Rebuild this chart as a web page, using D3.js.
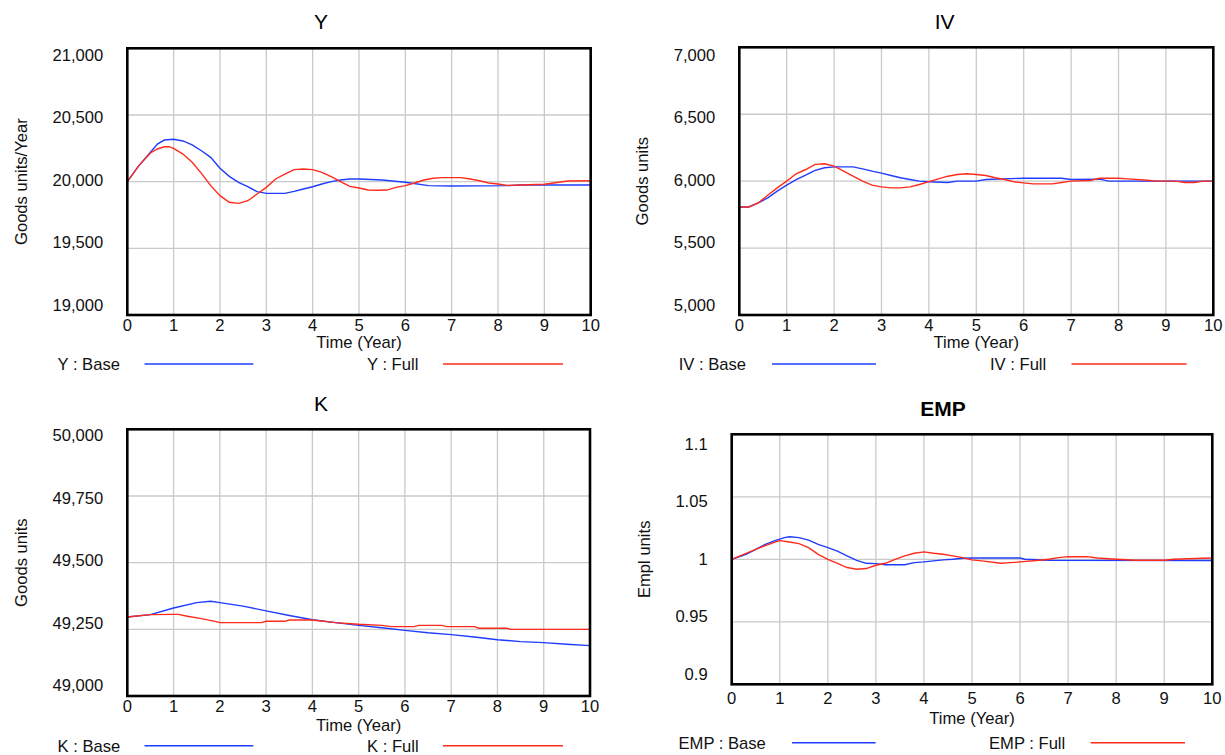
<!DOCTYPE html>
<html>
<head>
<meta charset="utf-8">
<script src="https://cdn.jsdelivr.net/npm/d3@7"></script>
<style>
  body { margin: 0; background: #fff; }
  svg { display: block; font-family: "Liberation Sans", Arial, Helvetica, sans-serif; }
</style>
</head>
<body>
<svg id="chart" width="1225" height="755"></svg>
<script>
// values, [year, value]
const yBase = [[0,20000],[0.25,20120],[0.5,20220],[0.65,20282],[0.8,20312],[1.0,20318],[1.2,20305],[1.4,20275],[1.6,20232],[1.8,20182],[2.0,20100],[2.2,20040],[2.4,19995],[2.6,19962],[2.8,19925],[3.0,19912],[3.2,19912],[3.4,19912],[3.6,19927],[3.8,19945],[4.0,19962],[4.2,19982],[4.4,20000],[4.6,20012],[4.8,20020],[5.0,20020],[5.5,20012],[6.0,19995],[6.5,19970],[7.0,19967],[8.2,19970],[8.5,19975],[10,19975]];
const yFull = [[0,20000],[0.25,20120],[0.5,20215],[0.65,20245],[0.8,20262],[0.9,20262],[1.0,20250],[1.2,20207],[1.4,20145],[1.6,20062],[1.8,19970],[2.0,19895],[2.2,19845],[2.4,19837],[2.6,19857],[2.8,19907],[3.0,19957],[3.2,20020],[3.4,20057],[3.6,20090],[3.8,20095],[4.0,20090],[4.2,20070],[4.4,20037],[4.6,20000],[4.8,19965],[5.0,19952],[5.2,19937],[5.4,19935],[5.6,19937],[5.8,19957],[6.0,19970],[6.2,19990],[6.4,20012],[6.6,20025],[6.8,20030],[7.2,20030],[7.4,20020],[7.6,20007],[7.8,19990],[8.0,19982],[8.2,19972],[8.5,19975],[9.0,19980],[9.2,19990],[9.5,20005],[10,20007]];

const ivBase = [[0,5807],[0.2,5807],[0.4,5837],[0.6,5875],[0.8,5925],[1.0,5970],[1.2,6012],[1.4,6045],[1.6,6080],[1.8,6100],[2.0,6107],[2.4,6107],[2.6,6092],[2.8,6075],[3.0,6060],[3.2,6042],[3.4,6025],[3.6,6012],[3.8,6000],[4.0,5995],[4.4,5990],[4.6,6000],[5.0,6000],[5.2,6012],[6.0,6022],[6.8,6022],[7.0,6012],[7.6,6015],[7.8,6000],[10,6000]];
const ivFull = [[0,5807],[0.2,5807],[0.4,5837],[0.6,5895],[0.8,5950],[1.0,6000],[1.2,6055],[1.4,6087],[1.6,6125],[1.8,6130],[2.0,6112],[2.2,6075],[2.4,6037],[2.6,6000],[2.8,5970],[3.0,5957],[3.2,5950],[3.4,5950],[3.6,5957],[3.8,5975],[4.0,5997],[4.2,6017],[4.4,6037],[4.6,6050],[4.8,6055],[5.0,6050],[5.2,6042],[5.4,6025],[5.6,6012],[5.8,5995],[6.0,5987],[6.2,5980],[6.6,5980],[6.8,5990],[7.0,6000],[7.4,6005],[7.6,6022],[8.0,6022],[8.2,6017],[8.6,6007],[8.8,6000],[9.2,6000],[9.4,5990],[9.6,5990],[9.8,6000],[10,6000]];

const kBase = [[0,49296],[0.5,49305],[1.0,49330],[1.5,49350],[1.8,49355],[2.0,49350],[2.5,49337],[3.0,49319],[3.5,49302],[4.0,49286],[4.5,49275],[5.0,49265],[5.5,49256],[6.0,49246],[6.5,49237],[7.0,49230],[7.5,49221],[8.0,49211],[8.5,49204],[9.0,49200],[9.5,49194],[10,49189]];
const kFull = [[0,49296],[0.5,49305],[1.0,49306],[1.1,49306],[1.3,49299],[1.6,49290],[1.9,49280],[2.0,49275],[2.9,49275],[3.0,49280],[3.4,49280],[3.5,49285],[4.0,49285],[4.5,49275],[5.0,49269],[5.5,49265],[5.7,49260],[6.2,49260],[6.3,49265],[6.8,49265],[6.9,49260],[7.5,49260],[7.6,49254],[8.2,49254],[8.3,49250],[10,49250]];

const empBase = [[0,1.0],[0.3,1.004],[0.5,1.008],[0.7,1.012],[0.9,1.015],[1.1,1.0173],[1.2,1.018],[1.4,1.0173],[1.6,1.0154],[1.8,1.012],[2.0,1.0093],[2.2,1.0066],[2.4,1.0027],[2.6,0.9992],[2.8,0.9968],[3.0,0.9965],[3.2,0.9957],[3.6,0.9957],[3.8,0.9973],[4.0,0.9979],[4.4,0.9995],[4.6,1.0],[4.8,1.0008],[5.0,1.001],[6.0,1.001],[6.1,1.0],[6.6,0.9992],[10,0.999]];
const empFull = [[0,1.0],[0.5,1.008],[0.7,1.011],[0.9,1.0138],[1.0,1.0149],[1.2,1.0138],[1.4,1.0125],[1.6,1.0093],[1.8,1.004],[2.0,1.0],[2.2,0.9968],[2.4,0.9934],[2.6,0.992],[2.8,0.9926],[3.0,0.9952],[3.2,0.9968],[3.4,1.0],[3.6,1.0027],[3.8,1.0048],[4.0,1.0059],[4.2,1.0048],[4.4,1.004],[4.6,1.0027],[4.8,1.0013],[5.0,0.9995],[5.2,0.9987],[5.6,0.9968],[5.8,0.9973],[6.0,0.9979],[6.4,0.9992],[6.6,1.0],[6.8,1.0013],[7.0,1.0021],[7.4,1.0021],[7.6,1.001],[8.0,1.0],[8.4,0.9992],[9.0,0.9992],[9.2,1.0],[9.8,1.0008],[10,1.001]];

const yearTicks = [0,1,2,3,4,5,6,7,8,9,10];
const yTicks = [19000,19500,20000,20500,21000];
const ivTicks = [5000,5500,6000,6500,7000];
const kTicks = [49000,49250,49500,49750,50000];
const empTicks = [0.9,0.95,1,1.05,1.1];

const BLUE = "#1f3cff";
const RED = "#ff2b1a";
const FS = 16.6;

const panels = [
  { title: "Y", bold: false, titleX: 321, titleY: 29.3,
    box: { l: 127.3, t: 48.3, r: 590.7, b: 315 }, ticks: yTicks, fmt: d3.format(","),
    labelRange: [305, 54.7], yLabel: "Goods units/Year", yLabelX: 27,
    xTickDy: 15.8, xTitleDy: 33,
    base: yBase, full: yFull, legName: "Y",
    leg: { textY: 370, lineY: 364, baseX: 57.5, baseLine: [144.5, 253.3], fullX: 367, fullLine: [443, 563] } },
  { title: "IV", bold: false, titleX: 944.7, titleY: 29.3,
    box: { l: 739.3, t: 47.3, r: 1213.3, b: 315 }, ticks: ivTicks, fmt: d3.format(","),
    labelRange: [305, 54.7], yLabel: "Goods units", yLabelX: 648,
    xTickDy: 15.8, xTitleDy: 33,
    base: ivBase, full: ivFull, legName: "IV",
    leg: { textY: 370, lineY: 364, baseX: 678.7, baseLine: [772, 876], fullX: 990, fullLine: [1071.5, 1186.6] } },
  { title: "K", bold: false, titleX: 321, titleY: 410.7,
    box: { l: 127.3, t: 429.3, r: 590, b: 696 }, ticks: kTicks, fmt: d3.format(","),
    labelRange: [685.5, 435.3], yLabel: "Goods units", yLabelX: 27,
    xTickDy: 16.4, xTitleDy: 35,
    base: kBase, full: kFull, legName: "K",
    leg: { textY: 751.7, lineY: 745.7, baseX: 57.5, baseLine: [144.5, 253.3], fullX: 367, fullLine: [443, 563] } },
  { title: "EMP", bold: true, titleX: 943, titleY: 415.7,
    box: { l: 731.7, t: 434.3, r: 1212.3, b: 684.3 }, ticks: empTicks, fmt: d => String(+d.toFixed(2)),
    labelRange: [673.8, 443.7], yLabel: "Empl units", yLabelX: 650,
    xTickDy: 19.2, xTitleDy: 39.5,
    base: empBase, full: empFull, legName: "EMP",
    leg: { textY: 749.3, lineY: 742.7, baseX: 678.5, baseLine: [792, 875.6], fullX: 989, fullLine: [1090.6, 1185] } }
];

const svg = d3.select("#chart");
svg.append("rect").attr("width", 1225).attr("height", 755).attr("fill", "#fff");

panels.forEach(p => {
  const g = svg.append("g");
  const bx = p.box;

  const x = d3.scaleLinear().domain([0, 10]).range([bx.l, bx.r]);
  const y = d3.scaleLinear().domain(d3.extent(p.ticks)).range([bx.b, bx.t]);
  // vensim puts the value labels slightly inside the frame
  const yl = d3.scaleLinear().domain(d3.extent(p.ticks)).range(p.labelRange);

  // grid
  g.append("g").selectAll("line")
    .data(yearTicks.slice(1, -1))
    .join("line")
    .attr("x1", d => x(d)).attr("x2", d => x(d))
    .attr("y1", bx.t).attr("y2", bx.b)
    .attr("stroke", "#cacaca").attr("stroke-width", 1.3);

  g.append("g").selectAll("line")
    .data(p.ticks.slice(1, -1))
    .join("line")
    .attr("x1", bx.l).attr("x2", bx.r)
    .attr("y1", d => y(d)).attr("y2", d => y(d))
    .attr("stroke", "#cacaca").attr("stroke-width", 1.3);

  // series
  const line = d3.line().x(d => x(d[0])).y(d => y(d[1]));
  g.append("path").attr("d", line(p.base))
    .attr("fill", "none").attr("stroke", BLUE).attr("stroke-width", 1.4);
  g.append("path").attr("d", line(p.full))
    .attr("fill", "none").attr("stroke", RED).attr("stroke-width", 1.4);

  // frame
  g.append("rect")
    .attr("x", bx.l).attr("y", bx.t)
    .attr("width", bx.r - bx.l).attr("height", bx.b - bx.t)
    .attr("fill", "none").attr("stroke", "#000").attr("stroke-width", 2.6);

  // value labels
  g.append("g").selectAll("text")
    .data(p.ticks)
    .join("text")
    .attr("x", bx.l - 24)
    .attr("y", d => yl(d))
    .attr("dy", "0.36em")
    .attr("text-anchor", "end")
    .attr("font-size", FS)
    .attr("fill", "#111")
    .text(p.fmt);

  // year labels
  g.append("g").selectAll("text")
    .data(yearTicks)
    .join("text")
    .attr("x", d => x(d))
    .attr("y", bx.b + p.xTickDy)
    .attr("text-anchor", "middle")
    .attr("font-size", FS)
    .attr("fill", "#111")
    .text(d => d);

  g.append("text")
    .attr("x", (bx.l + bx.r) / 2)
    .attr("y", bx.b + p.xTitleDy)
    .attr("text-anchor", "middle")
    .attr("font-size", FS)
    .attr("fill", "#111")
    .text("Time (Year)");

  g.append("text")
    .attr("transform", `translate(${p.yLabelX},${(bx.t + bx.b) / 2}) rotate(-90)`)
    .attr("text-anchor", "middle")
    .attr("font-size", FS)
    .attr("fill", "#111")
    .text(p.yLabel);

  g.append("text")
    .attr("x", p.titleX).attr("y", p.titleY)
    .attr("text-anchor", "middle")
    .attr("font-size", 21)
    .attr("font-weight", p.bold ? "bold" : "normal")
    .attr("fill", "#000")
    .text(p.title);

  // legend
  const lg = p.leg;
  [[`${p.legName} : Base`, lg.baseX, lg.baseLine, BLUE], [`${p.legName} : Full`, lg.fullX, lg.fullLine, RED]]
    .forEach(([label, tx, ln, col]) => {
      g.append("text")
        .attr("x", tx).attr("y", lg.textY)
        .attr("font-size", FS)
        .attr("fill", "#111")
        .text(label);
      g.append("line")
        .attr("x1", ln[0]).attr("x2", ln[1])
        .attr("y1", lg.lineY).attr("y2", lg.lineY)
        .attr("stroke", col).attr("stroke-width", 1.5);
    });
});
</script>
</body>
</html>
